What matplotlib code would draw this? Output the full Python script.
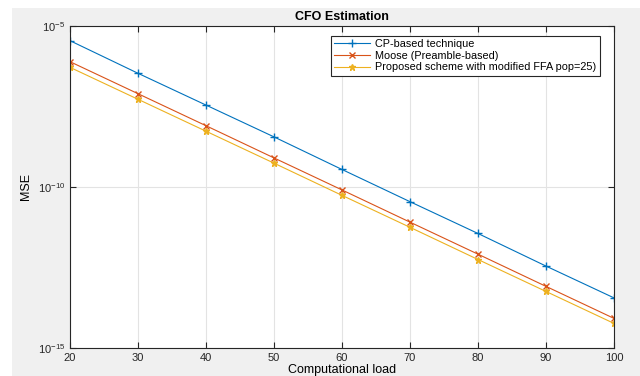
import numpy as np
import matplotlib.pyplot as plt
from matplotlib.patches import Rectangle

# computational load vs MSE
load = [20, 30, 40, 50, 60, 70, 80, 90, 100]
mse_cp = [3.5e-6, 3.4e-7, 3.5e-8, 3.6e-9, 3.5e-10, 3.5e-11, 3.6e-12, 3.5e-13, 3.6e-14]
mse_moose = [7.8e-7, 7.9e-8, 8.0e-9, 8.0e-10, 8.1e-11, 8.1e-12, 8.2e-13, 8.2e-14, 8.3e-15]
mse_prop = [5.2e-7, 5.3e-8, 5.4e-9, 5.5e-10, 5.5e-11, 5.6e-12, 5.6e-13, 5.7e-14, 5.8e-15]
labels = ['CP-based technique', 'Moose (Preamble-based)',
          'Proposed scheme with modified FFA pop=25)']

plt.rcParams['font.family'] = ['Liberation Sans', 'DejaVu Sans']

fig = plt.figure(figsize=(6.4, 3.76), dpi=100, facecolor='white')
# grey matlab figure background (screenshot has a thin white border top/left)
fig.patches.append(Rectangle((12 / 640, 0), 1, 1 - 8 / 376, transform=fig.transFigure,
                             facecolor='#f0f0f0', edgecolor='none', zorder=-10))
ax = fig.add_axes([70 / 640, 1 - 348 / 376, (614 - 70) / 640, (348 - 26) / 376])
ax.set_facecolor('white')

ax.semilogy(load, mse_cp, color='#0072BD', marker='+', lw=0.8, ms=6, label=labels[0])
ax.semilogy(load, mse_moose, color='#D95319', marker='x', lw=0.8, ms=5, label=labels[1])
ax.semilogy(load, mse_prop, color='#EDB120', marker='*', lw=0.8, ms=5, label=labels[2])

ax.set_xlim(20, 100)
ax.set_ylim(1e-15, 1e-5)
ax.set_xticks(load)
ax.set_yticks([1e-15, 1e-10, 1e-5])
ax.yaxis.set_minor_locator(plt.NullLocator())
ax.grid(True, color='#e3e3e3', lw=0.8)
ax.set_axisbelow(True)
ax.tick_params(direction='in', top=True, right=True, labelsize=8, colors='#262626',
               length=4, width=0.8)
for s in ax.spines.values():
    s.set_color('#262626')
    s.set_linewidth(0.8)

ax.set_title('CFO Estimation', fontsize=9, fontweight='bold', pad=4)
ax.set_xlabel('Computational load', fontsize=9, labelpad=1)
ax.set_ylabel('MSE', fontsize=9, labelpad=4)

leg = ax.legend(loc='upper right', bbox_to_anchor=(0.974, 0.969), fontsize=7.8,
                fancybox=False, framealpha=1, edgecolor='#262626', borderaxespad=0,
                handlelength=3.3, borderpad=0.3, labelspacing=0.15, handletextpad=0.5)
leg.get_frame().set_linewidth(0.8)

fig.savefig('out.png', dpi=100, facecolor=fig.get_facecolor())
